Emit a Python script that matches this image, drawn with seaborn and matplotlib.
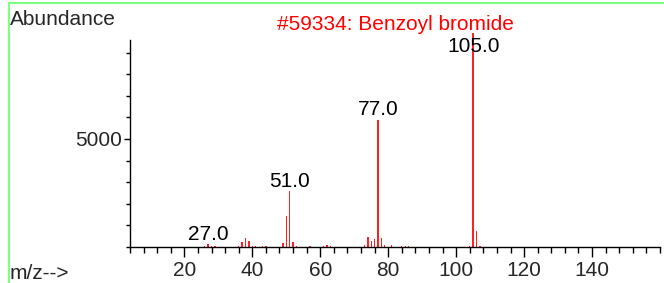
import numpy as np
import pandas as pd
import seaborn as sns
import matplotlib.pyplot as plt
from matplotlib.lines import Line2D
from matplotlib.ticker import MultipleLocator

# stick spectrum
mz = [26, 27, 28, 29, 36, 37, 38, 39, 40, 41, 43, 44, 49, 50, 51, 52, 53, 57,
      61, 62, 63, 73, 74, 75, 76, 77, 78, 79, 81, 84, 85, 86, 104, 105, 106, 107]
abundance = [60, 140, 40, 50, 50, 230, 400, 270, 40, 30, 30, 40, 180, 1450, 2600, 240, 50, 40,
             60, 100, 50, 100, 470, 290, 380, 5900, 420, 100, 90, 40, 50, 40, 40, 9900, 750, 40]
labeled_mz = [27, 51, 77, 105]
labels = ["27.0", "51.0", "77.0", "105.0"]
x_ticks = [20, 40, 60, 80, 100, 120, 140]
y_ticks = [5000]
title = "#59334: Benzoyl bromide"

df = pd.DataFrame({"mz": mz, "abundance": abundance})

sns.set_style("ticks")
plt.rcParams['font.family'] = ['Liberation Sans', 'DejaVu Sans']
fs = 15

fig = plt.figure(figsize=(6.64, 2.83), dpi=100)
ax = fig.add_axes([130 / 664, 1 - 247 / 283, 530 / 664, 207 / 283])

sns.barplot(data=df, x="mz", y="abundance", native_scale=True, color="#ff2020",
            saturation=1, width=0.4, linewidth=0, errorbar=None, ax=ax)
for p in ax.patches:
    p.set_clip_on(False)

ax.set_xlim(4, 160)
ax.set_ylim(0, 9580)
ax.set_xticks(x_ticks)
ax.set_yticks(y_ticks)
ax.xaxis.set_minor_locator(MultipleLocator(4))
ax.yaxis.set_minor_locator(MultipleLocator(1000))
ax.tick_params(axis="both", which="major", labelsize=fs, color="black", width=1)
ax.tick_params(axis="x", which="major", length=7, pad=3)
ax.tick_params(axis="x", which="minor", length=4.5, width=1, color="black")
ax.tick_params(axis="y", which="major", length=4, pad=1.5)
ax.tick_params(axis="y", which="minor", length=3, width=1, color="black")
ax.set_xlabel("")
ax.set_ylabel("")
sns.despine(ax=ax)
for s in ["left", "bottom"]:
    ax.spines[s].set_color("black")
    ax.spines[s].set_linewidth(1)

# peak labels sit just above the stick, capped near the top of the axis
cap = 8840
for m, t in zip(labeled_mz, labels):
    h = df.loc[df.mz == m, "abundance"].iloc[0]
    ax.annotate(t, (m, min(h, cap)), xytext=(0, 3), textcoords="offset points",
                ha="center", va="baseline", fontsize=fs, color="black")

ax.set_title(title, color="red", fontsize=fs, pad=7)

fig.text(10 / 664, 1 - 25 / 283, "Abundance", ha="left", va="baseline", fontsize=fs)
fig.text(10 / 664, 4 / 283, "m/z-->", ha="left", va="baseline", fontsize=fs)

# light green frame lines
fig.add_artist(Line2D([9 / 664, 1], [1 - 3 / 283, 1 - 3 / 283], color="#7fff7f", lw=1.5))
fig.add_artist(Line2D([9 / 664, 9 / 664], [0, 1 - 3 / 283], color="#7fff7f", lw=1.5))

fig.savefig("out.png", dpi=100)
